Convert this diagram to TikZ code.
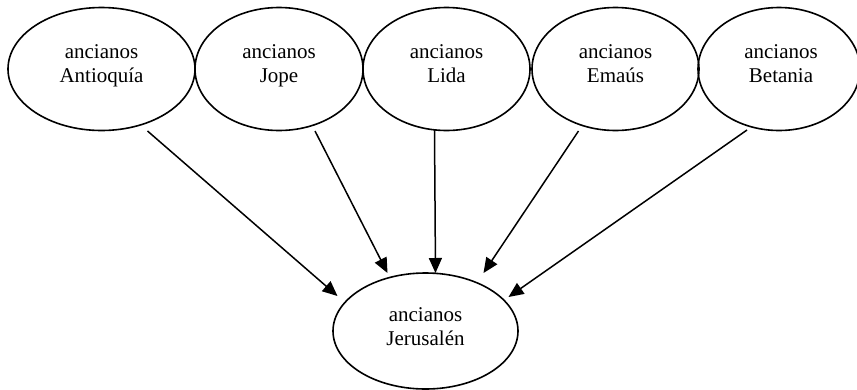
\documentclass[tikz,border=0pt]{standalone}
\usepackage{fontspec}
\setmainfont{Liberation Serif}
\usetikzlibrary{shapes.geometric,arrows.meta,calc}

\tikzset{
  elder/.style={ellipse, draw, line width=1.6pt, inner sep=0pt,
                minimum height=123pt},
  caption/.style={align=center, inner sep=0pt,
                  font=\fontsize{21}{24}\selectfont},
  feed/.style={line width=1.5pt,
               -{Triangle[length=15pt,width=13pt]}},
}

\begin{document}
\begin{tikzpicture}[x=1pt,y=-1pt]
  \useasboundingbox (0,0) rectangle (857,389);

  % local councils of elders
  \node[elder, minimum width=187pt] (ant) at (101.5,69) {};
  \node[elder, minimum width=168pt] (jop) at (279,69) {};
  \node[elder, minimum width=167pt] (lid) at (446.5,69) {};
  \node[elder, minimum width=167pt] (ema) at (615.5,69) {};
  \node[elder, minimum width=162pt] (bet) at (779,69) {};

  % council in Jerusalem
  \node[elder, minimum width=185pt, minimum height=116pt] (jer) at (425.5,331) {};

  % captions
  \node[caption] (ant-t) at ($(ant.center)+(0,-3)$) {\strut ancianos\\\strut Antioquía};
  \node[caption] (jop-t) at ($(jop.center)+(0,-3)$) {\strut ancianos\\\strut Jope};
  \node[caption] (lid-t) at ($(lid.center)+(0,-3)$) {\strut ancianos\\\strut Lida};
  \node[caption] (ema-t) at ($(ema.center)+(0,-3)$) {\strut ancianos\\\strut Emaús};
  \node[caption] (bet-t) at ($(bet.center)+(2,-3)$) {\strut ancianos\\\strut Betania};
  \node[caption] (jer-t) at ($(jer.center)+(0,-2)$) {\strut ancianos\\\strut Jerusalén};

  % connections towards Jerusalem
  \draw[feed] ($(ant.center)+(46,62)$)  -- ($(jer.center)+(-88,-35)$);
  \draw[feed] ($(jop.center)+(36,62)$)  -- ($(jer.center)+(-38,-58)$);
  \draw[feed] ($(lid.center)+(-12,61)$) -- ($(jer.center)+(10,-58)$);
  \draw[feed] ($(ema.center)+(-37,62)$) -- ($(jer.center)+(58,-58)$);
  \draw[feed] ($(bet.center)+(-32,61)$) -- ($(jer.center)+(83,-34)$);
\end{tikzpicture}
\end{document}
